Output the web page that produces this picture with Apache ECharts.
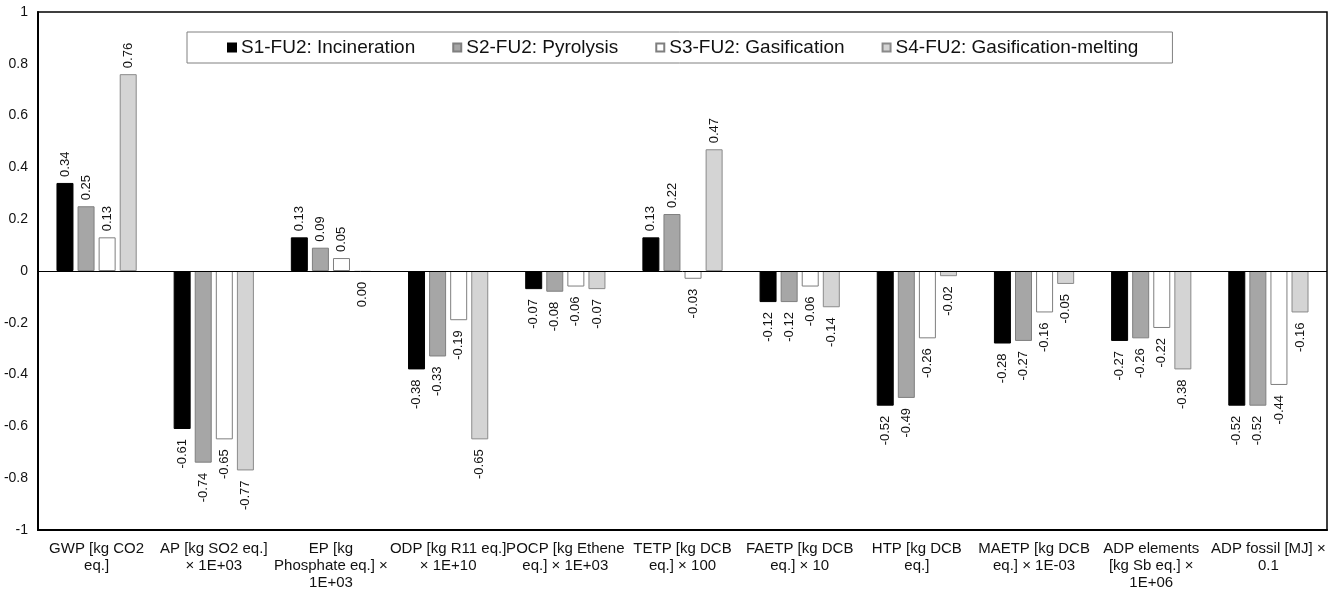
<!DOCTYPE html>
<html>
<head>
<meta charset="utf-8">
<script src="https://cdn.jsdelivr.net/npm/echarts@6/dist/echarts.min.js"></script>
<style>
html,body{margin:0;padding:0;background:#fff;}
#chart{width:1337px;height:593px;}
</style>
</head>
<body>
<div id="chart"></div>
<script>
const categories = [
  'GWP [kg CO2\neq.]',
  'AP [kg SO2 eq.]\n× 1E+03',
  'EP [kg\nPhosphate eq.] ×\n1E+03',
  'ODP [kg R11 eq.]\n× 1E+10',
  'POCP [kg Ethene\neq.] × 1E+03',
  'TETP [kg DCB\neq.] × 100',
  'FAETP [kg DCB\neq.] × 10',
  'HTP [kg DCB\neq.]',
  'MAETP [kg DCB\neq.] × 1E-03',
  'ADP elements\n[kg Sb eq.] ×\n1E+06',
  'ADP fossil [MJ] ×\n0.1'
];
const seriesNames = [
  'S1-FU2: Incineration',
  'S2-FU2: Pyrolysis',
  'S3-FU2: Gasification',
  'S4-FU2: Gasification-melting'
];
const s1 = [0.34, -0.61, 0.13, -0.38, -0.07, 0.13, -0.12, -0.52, -0.28, -0.27, -0.52];
const s2 = [0.25, -0.74, 0.09, -0.33, -0.08, 0.22, -0.12, -0.49, -0.27, -0.26, -0.52];
const s3 = [0.13, -0.65, 0.05, -0.19, -0.06, -0.03, -0.06, -0.26, -0.16, -0.22, -0.44];
const s4 = [0.76, -0.77, -0.003, -0.65, -0.07, 0.47, -0.14, -0.02, -0.05, -0.38, -0.16];
const yTicks = { min: -1, max: 1, interval: 0.2 };

const styles = [
  { color: '#000000', borderColor: '#000000', borderWidth: 1 },
  { color: '#a6a6a6', borderColor: '#7f7f7f', borderWidth: 1 },
  { color: '#ffffff', borderColor: '#7f7f7f', borderWidth: 1 },
  { color: '#d4d4d4', borderColor: '#8a8a8a', borderWidth: 1 }
];

function fmt(v) {
  const s = Number(v).toFixed(2);
  return s === '-0.00' ? '0.00' : s;
}

function buildData(arr) {
  return arr.map(v => ({
    value: v,
    label: v < 0
      ? { position: 'bottom', align: 'right', distance: 10 }
      : { position: 'top', align: 'left', distance: 6 }
  }));
}

const allData = [s1, s2, s3, s4];
const series = allData.map((arr, i) => {
  const s = {
    name: seriesNames[i],
    type: 'bar',
    data: buildData(arr),
    barWidth: 17,
    barGap: '24%',
    itemStyle: styles[i],
    label: {
      show: true,
      rotate: 90,
      verticalAlign: 'middle',
      fontFamily: 'Liberation Sans, Arial, sans-serif',
      fontSize: 13,
      color: '#111',
      formatter: p => fmt(p.value)
    },
    emphasis: { disabled: true },
    animation: false
  };
  if (i === 0) {
    s.markLine = {
      silent: true,
      symbol: 'none',
      label: { show: false },
      lineStyle: { color: '#000', width: 1, type: 'solid' },
      data: [{ yAxis: 0 }],
      animation: false
    };
  }
  return s;
});

const chart = echarts.init(document.getElementById('chart'), null, { renderer: 'canvas' });
chart.setOption({
  animation: false,
  backgroundColor: '#ffffff',
  textStyle: { fontFamily: 'Liberation Sans, Arial, sans-serif' },
  legend: {
    left: 187,
    top: 32,
    orient: 'horizontal',
    padding: [6, 34, 6, 40],
    itemWidth: 8,
    itemHeight: 8,
    itemGap: 37,
    borderColor: '#808080',
    borderWidth: 1,
    selectedMode: false,
    icon: 'rect',
    textStyle: { fontSize: 19, lineHeight: 19, color: '#111', fontFamily: 'Liberation Sans, Arial, sans-serif' },
    data: seriesNames
  },
  grid: {
    left: 38, right: 10, top: 12, bottom: 63,
    show: true, borderColor: '#000', borderWidth: 1.5, backgroundColor: 'transparent'
  },
  xAxis: {
    type: 'category',
    data: categories,
    position: 'bottom',
    axisLine: { onZero: false, lineStyle: { color: '#000', width: 2 } },
    axisTick: { show: false },
    axisLabel: {
      interval: 0,
      margin: 10,
      fontSize: 15,
      lineHeight: 17,
      color: '#111',
      fontFamily: 'Liberation Sans, Arial, sans-serif'
    },
    splitLine: { show: false }
  },
  yAxis: {
    type: 'value',
    min: yTicks.min,
    max: yTicks.max,
    interval: yTicks.interval,
    axisLine: { show: true, lineStyle: { color: '#000', width: 2 } },
    axisTick: { show: false },
    splitLine: { show: false },
    axisLabel: {
      margin: 10,
      fontSize: 14,
      color: '#111',
      fontFamily: 'Liberation Sans, Arial, sans-serif',
      formatter: v => String(Math.round(v * 10) / 10)
    }
  },
  series: series
});
</script>
</body>
</html>
